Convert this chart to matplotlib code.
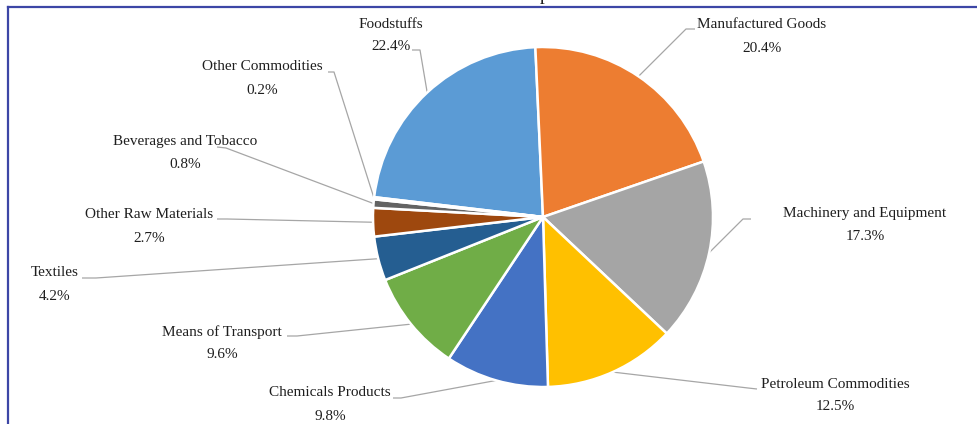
import matplotlib
matplotlib.use("Agg")
import matplotlib.pyplot as plt
from matplotlib.lines import Line2D
import numpy as np

# Import composition by commodity group (percent of total)
categories = [
    "Foodstuffs", "Manufactured Goods", "Machinery and Equipment",
    "Petroleum Commodities", "Chemicals Products", "Means of Transport",
    "Textiles", "Other Raw Materials", "Beverages and Tobacco",
    "Other Commodities",
]
shares = [22.4, 20.4, 17.3, 12.5, 9.8, 9.6, 4.2, 2.7, 0.8, 0.2]
colors = ["#5B9BD5", "#ED7D31", "#A5A5A5", "#FFC000", "#4472C4",
          "#70AD47", "#255E91", "#9E480E", "#636363", "#997300"]
title = "Imports"

W, H = 977, 424
DPI = 100

# Layout (pixel coordinates measured from the top-left corner)
pie_center_px = (543, 217)
pie_radius_px = 170
label_pos_px = [(391, 24), (762, 25), (865, 213), (835, 384), (330, 393),
                (222, 332), (55, 273), (149, 215), (185, 141), (262, 67)]
line_gap_px = 23
leader_start_px = [
    [(412, 50), (420, 50)],
    [(695, 29), (686, 29)],
    [(751, 219), (743, 219)],
    [(757, 389), (748, 388)],
    [(393, 398), (401, 398)],
    [(287, 336), (297, 336)],
    [(82, 278), (96, 278)],
    [(217, 219), (227, 219)],
    [(217, 147), (226, 148)],
    [(328, 72), (334, 72)],
]

FONT = ["Liberation Serif", "DejaVu Serif"]
FONT_SIZE = 11
TEXT_COLOR = "#1e1e1e"
LEADER_COLOR = "#a6a6a6"


def to_data(p):
    return p[0], H - p[1]


fig = plt.figure(figsize=(W / DPI, H / DPI), dpi=DPI)
ax = fig.add_axes([0, 0, 1, 1])

cx, cy = to_data(pie_center_px)
wedges, _ = ax.pie(
    shares, colors=colors, startangle=173.3, counterclock=False,
    center=(cx, cy), radius=pie_radius_px,
    wedgeprops=dict(edgecolor="white", linewidth=1.8),
)
ax.set_xlim(0, W)
ax.set_ylim(0, H)
ax.set_aspect("equal")
ax.axis("off")

for w, name, val, (lx, ly), pts in zip(wedges, categories, shares,
                                        label_pos_px, leader_start_px):
    mid = np.deg2rad((w.theta1 + w.theta2) / 2)
    ax_x = cx + pie_radius_px * np.cos(mid)
    ax_y = cy + pie_radius_px * np.sin(mid)
    xs = [to_data(p)[0] for p in pts] + [ax_x]
    ys = [to_data(p)[1] for p in pts] + [ax_y]
    ax.plot(xs, ys, color=LEADER_COLOR, lw=0.9, zorder=0.5,
            solid_capstyle="butt")
    tx, ty = to_data((lx, ly))
    ax.text(tx, ty, name, ha="center", va="center", fontsize=FONT_SIZE,
            family=FONT, color=TEXT_COLOR)
    ax.text(tx, ty - line_gap_px, f"{val:.1f}%", ha="center", va="center",
            fontsize=FONT_SIZE, family=FONT, color=TEXT_COLOR)

# Chart title sits above the frame
fig.text(549 / W, 1.0, title, ha="center", va="baseline", fontsize=14,
         family=FONT, color=TEXT_COLOR)

# Chart frame (top and left edges)
frame_color = "#3c46a6"
fig.add_artist(Line2D([8 / W, 1.0], [1 - 7 / H, 1 - 7 / H],
                      transform=fig.transFigure, color=frame_color, lw=1.6))
fig.add_artist(Line2D([8 / W, 8 / W], [0.0, 1 - 7 / H],
                      transform=fig.transFigure, color=frame_color, lw=1.6))

fig.savefig("out.png", dpi=DPI, facecolor="white")
